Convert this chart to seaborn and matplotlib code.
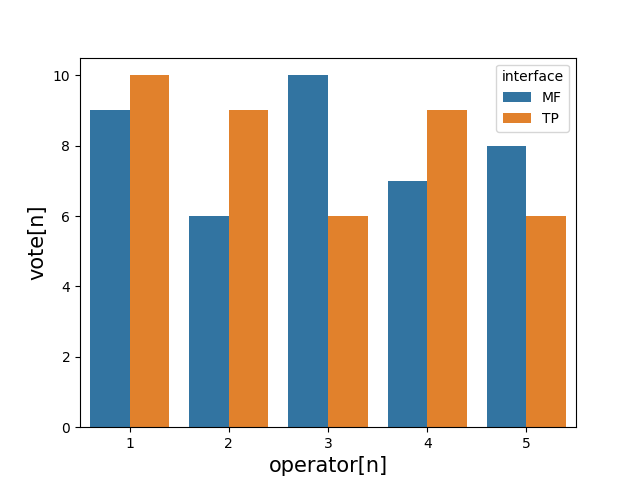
import pandas as pd
import seaborn as sns
import matplotlib.pyplot as plt

# Datos
operators = [1, 2, 3, 4, 5]
mf_votes = [9, 6, 10, 7, 8]
tp_votes = [10, 9, 6, 9, 6]

df = pd.DataFrame({
    'operator': operators * 2,
    'vote': mf_votes + tp_votes,
    'interface': ['MF'] * len(operators) + ['TP'] * len(operators),
})

fig, ax = plt.subplots(figsize=(6.4, 4.8), dpi=100)
sns.barplot(data=df, x='operator', y='vote', hue='interface', ax=ax)
ax.set_xlabel('operator[n]', fontsize=15)
ax.set_ylabel('vote[n]', fontsize=15)
sns.move_legend(ax, 'upper right', title='interface')

plt.savefig('out.png')
